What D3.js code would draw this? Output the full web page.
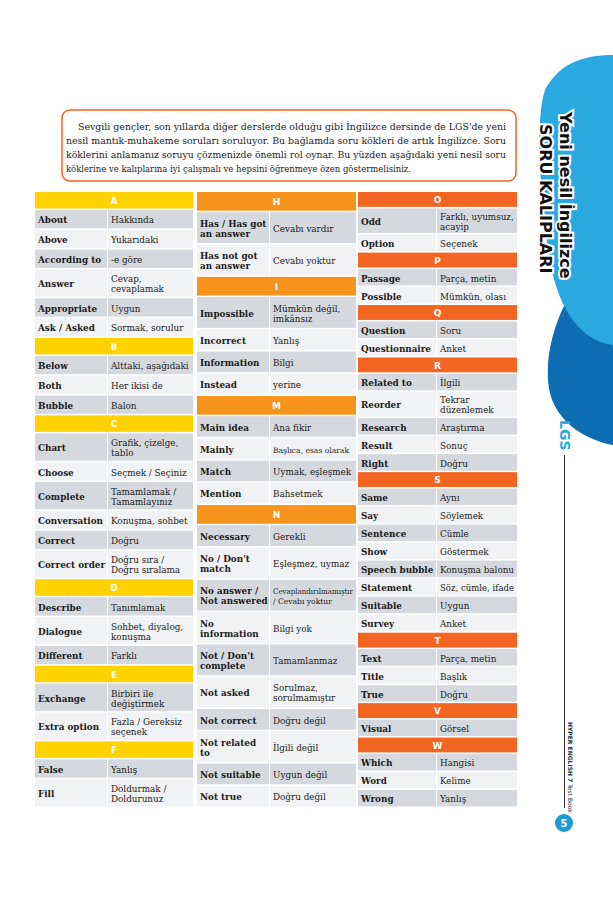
<!DOCTYPE html>
<html><head><meta charset="utf-8">
<script src="https://cdn.jsdelivr.net/npm/d3@7"></script>
<style>body{margin:0;background:#fff}svg{display:block}</style>
</head><body>
<div id="chart"></div>
<script>
const W = 613, H = 920;

// word list: [term, meaning] ; a single string = section letter
const col1 = ["A", ["About","Hakkında"], ["Above","Yukarıdaki"], ["According to","-e göre"], ["Answer","Cevap,|cevaplamak"], ["Appropriate","Uygun"], ["Ask / Asked","Sormak, sorulur"],
  "B", ["Below","Alttaki, aşağıdaki"], ["Both","Her ikisi de"], ["Bubble","Balon"],
  "C", ["Chart","Grafik, çizelge,|tablo"], ["Choose","Seçmek / Seçiniz"], ["Complete","Tamamlamak /|Tamamlayınız"], ["Conversation","Konuşma, sohbet"], ["Correct","Doğru"], ["Correct order","Doğru sıra /|Doğru sıralama"],
  "D", ["Describe","Tanımlamak"], ["Dialogue","Sohbet, diyalog,|konuşma"], ["Different","Farklı"],
  "E", ["Exchange","Birbiri ile|değiştirmek"], ["Extra option","Fazla / Gereksiz|seçenek"],
  "F", ["False","Yanlış"], ["Fill","Doldurmak /|Doldurunuz"]];
const col2 = ["H", ["Has / Has got|an answer","Cevabı vardır"], ["Has not got|an answer","Cevabı yoktur"],
  "I", ["Impossible","Mümkün değil,|imkânsız"], ["Incorrect","Yanlış"], ["Information","Bilgi"], ["Instead","yerine"],
  "M", ["Main idea","Ana fikir"], ["Mainly","Başlıca, esas olarak"], ["Match","Uymak, eşleşmek"], ["Mention","Bahsetmek"],
  "N", ["Necessary","Gerekli"], ["No / Don't|match","Eşleşmez, uymaz"], ["No answer /|Not answered","Cevaplandırılmamıştır|/ Cevabı yoktur"], ["No|information","Bilgi yok"], ["Not / Don't|complete","Tamamlanmaz"], ["Not asked","Sorulmaz,|sorulmamıştır"], ["Not correct","Doğru değil"], ["Not related|to","İlgili değil"], ["Not suitable","Uygun değil"], ["Not true","Doğru değil"]];
const col3 = ["O", ["Odd","Farklı, uyumsuz,|acayip"], ["Option","Seçenek"],
  "P", ["Passage","Parça, metin"], ["Possible","Mümkün, olası"],
  "Q", ["Question","Soru"], ["Questionnaire","Anket"],
  "R", ["Related to","İlgili"], ["Reorder","Tekrar|düzenlemek"], ["Research","Araştırma"], ["Result","Sonuç"], ["Right","Doğru"],
  "S", ["Same","Aynı"], ["Say","Söylemek"], ["Sentence","Cümle"], ["Show","Göstermek"], ["Speech bubble","Konuşma balonu"], ["Statement","Söz, cümle, ifade"], ["Suitable","Uygun"], ["Survey","Anket"],
  "T", ["Text","Parça, metin"], ["Title","Başlık"], ["True","Doğru"],
  "V", ["Visual","Görsel"],
  "W", ["Which","Hangisi"], ["Word","Kelime"], ["Wrong","Yanlış"]];

const columns = [
  {rows: col1, x0: 35, split: 108, x1: 193, head: "#ffd200"},
  {rows: col2, x0: 197, split: 270, x1: 356, head: "#f7941d"},
  {rows: col3, x0: 358, split: 437, x1: 517, head: "#f26522"}
];
const introLines = [
  "Sevgili gençler, son yıllarda diğer derslerde olduğu gibi İngilizce dersinde de LGS'de yeni",
  "nesil mantık-muhakeme soruları soruluyor. Bu bağlamda soru kökleri de artık İngilizce. Soru",
  "köklerini anlamanız soruyu çözmenizde önemli rol oynar. Bu yüzden aşağıdaki yeni nesil soru",
  "köklerine ve kalıplarına iyi çalışmalı ve hepsini öğrenmeye özen göstermelisiniz."
];

const svg = d3.select("#chart").append("svg").attr("width", W).attr("height", H);

// right side decoration
svg.append("path").attr("fill", "#0e6cb2")
  .attr("d", "M613,250 C575,270 545,330 548,380 C550,420 585,440 613,445 Z");
svg.append("path").attr("fill", "#2aa8e0")
  .attr("d", "M613,55 C590,55 560,60 545,90 C535,120 540,190 548,250 C555,300 575,340 613,345 Z");
const title = svg.append("g").attr("transform", "translate(560,112) rotate(90)")
  .style("font-family", "'DejaVu Sans', sans-serif").style("font-weight", "bold");
const titleLines = [["Yeni nesil İngilizce", 0, 0], ["SORU KALIPLARI", 12, 20]];
titleLines.forEach(([t, dx, dy]) => {
  title.append("text").attr("x", dx).attr("y", dy).text(t).attr("font-size", 16)
    .attr("stroke", "#fff").attr("stroke-width", 4).attr("fill", "#fff").attr("paint-order", "stroke");
});
titleLines.forEach(([t, dx, dy]) => {
  title.append("text").attr("x", dx).attr("y", dy).text(t).attr("font-size", 16).attr("fill", "#111");
});
svg.append("text").attr("transform", "translate(560,420) rotate(90)")
  .attr("font-family", "'DejaVu Sans', sans-serif").attr("font-weight", "bold").attr("font-size", 14)
  .attr("fill", "#2aa8e0").text("LGS");
svg.append("line").attr("x1", 564.5).attr("x2", 564.5).attr("y1", 455).attr("y2", 808)
  .attr("stroke", "#333").attr("stroke-width", 1);
svg.append("text").attr("transform", "translate(568,722) rotate(90)")
  .attr("font-family", "'DejaVu Sans', sans-serif").attr("font-size", 6).attr("fill", "#333")
  .html("<tspan font-weight='bold'>HYPER ENGLISH 7</tspan> Test Book");
svg.append("circle").attr("cx", 564).attr("cy", 823).attr("r", 9).attr("fill", "#1e9ad6");
svg.append("text").attr("x", 564).attr("y", 827).attr("text-anchor", "middle")
  .attr("font-family", "'DejaVu Sans', sans-serif").attr("font-size", 10).attr("font-weight", "bold")
  .attr("fill", "#fff").text("5");

// intro box
svg.append("rect").attr("x", 62).attr("y", 110).attr("width", 454).attr("height", 71).attr("rx", 8)
  .attr("fill", "#fff").attr("stroke", "#f26522").attr("stroke-width", 1.5);
svg.append("g").selectAll("text").data(introLines).join("text")
  .attr("x", (d, i) => i === 0 ? 78 : 66).attr("y", (d, i) => 130 + i * 14)
  .attr("textLength", (d, i) => i === 0 ? 428 : (i === 3 ? 345 : 440)).attr("lengthAdjust", "spacingAndGlyphs")
  .attr("font-family", "'DejaVu Serif', serif").attr("font-size", 10).attr("fill", "#222").text(d => d);

// tables
const weight = r => typeof r === "string" ? 1 : Math.max(r[0].split("|").length, r[1].split("|").length) === 2 ? 1.6 : 1.1;
columns.forEach(col => {
  let acc = 0, k = 0;
  const items = col.rows.map(r => {
    const w = weight(r);
    if (typeof r === "string") k = 0;
    const it = {r, a: acc, b: acc + w, alt: typeof r === "string" ? 0 : (k++ % 2)};
    acc += w;
    return it;
  });
  const y = d3.scaleLinear().domain([0, acc]).range([192, 808]);
  const g = svg.append("g");
  items.forEach(it => {
    const y0 = y(it.a), y1 = y(it.b), h = y1 - y0 - 1.5, mid = (y0 + y1) / 2;
    if (typeof it.r === "string") {
      g.append("rect").attr("x", col.x0).attr("y", y0).attr("width", col.x1 - col.x0).attr("height", h).attr("fill", col.head);
      g.append("text").attr("x", (col.x0 + col.x1) / 2).attr("y", mid + 3).attr("text-anchor", "middle")
        .attr("font-family", "'DejaVu Sans', sans-serif").attr("font-size", 9).attr("font-weight", "bold")
        .attr("fill", "#fff").text(it.r);
      return;
    }
    const fill = it.alt ? "#f1f2f3" : "#d5d9dd";
    g.append("rect").attr("x", col.x0).attr("y", y0).attr("width", col.split - col.x0 - 1).attr("height", h).attr("fill", fill);
    g.append("rect").attr("x", col.split).attr("y", y0).attr("width", col.x1 - col.split).attr("height", h).attr("fill", fill);
    const cellW = [col.split - col.x0 - 5, col.x1 - col.split - 6];
    [[it.r[0], col.x0 + 3, "bold", cellW[0]], [it.r[1], col.split + 3, "normal", cellW[1]]].forEach(([t, x, fw, cw]) => {
      const lines = t.split("|");
      const long = d3.max(lines, l => l.length) > 19;
      lines.forEach((l, i) => {
        const txt = g.append("text").attr("x", x).attr("y", mid + 3.5 + (i - (lines.length - 1) / 2) * 10)
          .attr("font-family", "'DejaVu Serif', serif").attr("font-weight", fw).attr("font-size", long ? 7.6 : 8.8)
          .attr("fill", "#1a1a1a").text(l);
        if (txt.node().getComputedTextLength() > cw)
          txt.attr("textLength", cw).attr("lengthAdjust", "spacingAndGlyphs");
      });
    });
  });
});
</script>
</body></html>
